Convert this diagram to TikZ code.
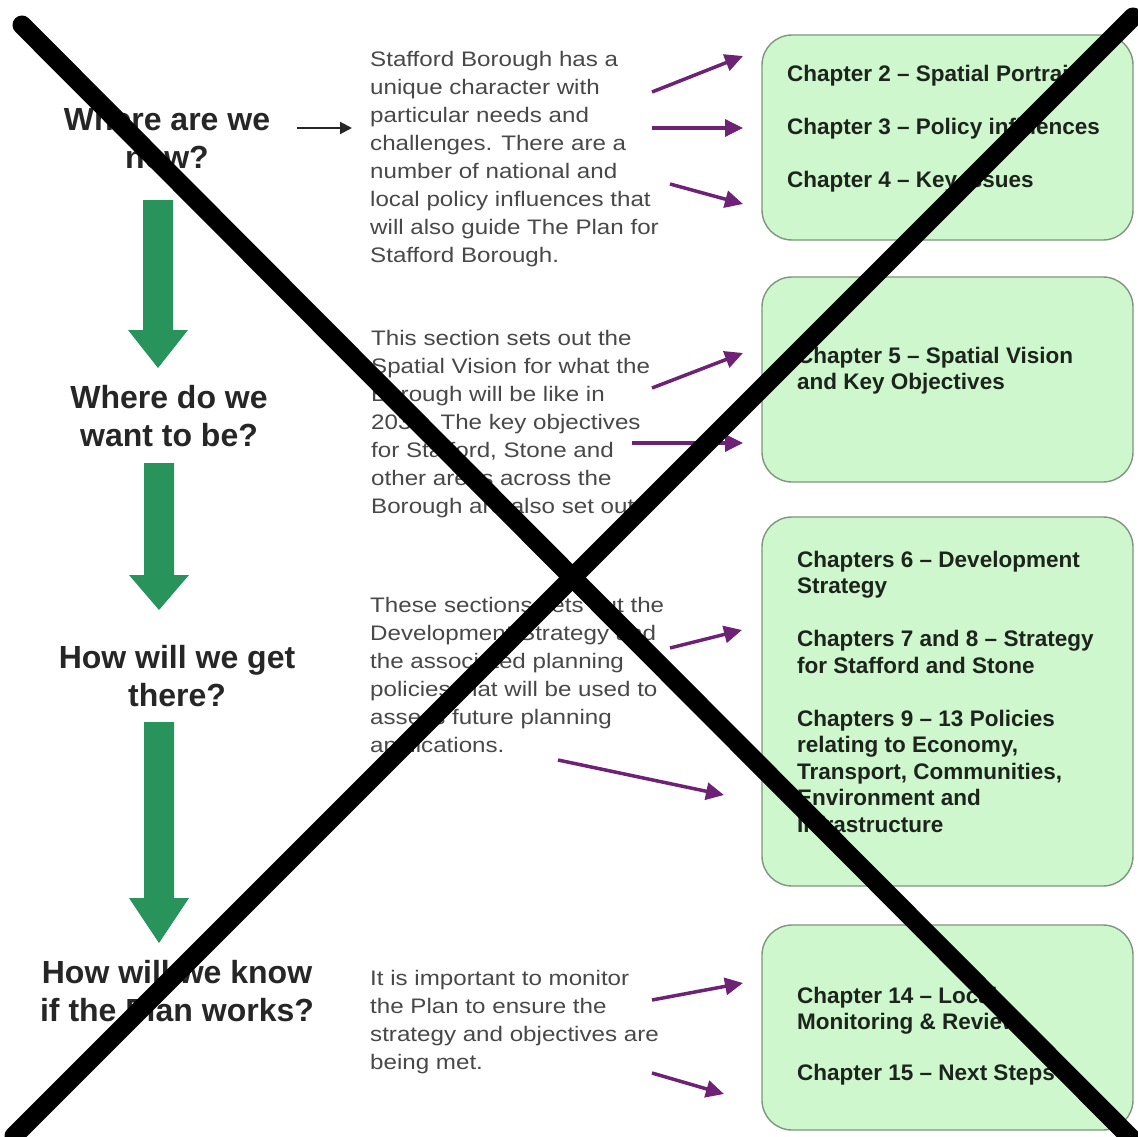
\documentclass[tikz,border=0pt]{standalone}
\usepackage{fontspec}
\setmainfont{Liberation Sans}
\newfontfamily\midfont{Liberation Sans}[FakeStretch=1.15]
\usetikzlibrary{arrows.meta}
\definecolor{qgreen}{RGB}{40,148,92}
\definecolor{boxfill}{RGB}{206,247,206}
\definecolor{boxline}{RGB}{125,150,125}
\definecolor{purp}{RGB}{110,34,118}
\definecolor{midgray}{RGB}{72,72,72}
\definecolor{qtext}{RGB}{38,38,38}
\definecolor{ctext}{RGB}{28,36,28}
\tikzset{
  chapbox/.style={draw=boxline, line width=1.4pt, fill=boxfill, rounded corners=30pt, inner sep=0pt},
  question/.style={anchor=base, inner sep=0pt, text=qtext},
  midtext/.style={anchor=base west, inner sep=0pt, text=midgray},
  chaptext/.style={anchor=base west, inner sep=0pt, text=ctext},
  purparrow/.style={draw=purp, line width=3.5pt, -{Triangle[length=18pt,width=17pt]}},
  blackarrow/.style={draw=qtext, line width=2pt, -{Triangle[length=12pt,width=12pt]}},
  greenarrow/.style={fill=qgreen},
  cross/.style={draw=black, line width=19pt, line cap=round}
}
\newcommand{\qtxt}[1]{\parbox[t]{320pt}{\centering\fontsize{32}{38}\selectfont\bfseries #1}}
\newcommand{\mtxt}[1]{\parbox[t]{360pt}{\raggedright\midfont\fontsize{21}{28}\selectfont #1}}
\newcommand{\ctxt}[1]{\parbox[t]{345pt}{\raggedright\fontsize{22.5}{26.5}\selectfont\bfseries #1}}
\begin{document}
\begin{tikzpicture}[x=1pt,y=-1pt]
\useasboundingbox[fill=white] (0,0) rectangle (1138,1137);

% questions
\node[question] (q1) at (167,131) {\qtxt{Where are we\\now?}};
\node[question] (q2) at (169,408) {\qtxt{Where do we\\want to be?}};
\node[question] (q3) at (177,668) {\qtxt{How will we get\\there?}};
\node[question] (q4) at (177,983) {\qtxt{How will we know\\if the Plan works?}};

% green down arrows
\fill[greenarrow] (143,200) -- (173,200) -- (173,330) -- (188,330) -- (158,368) -- (128,330) -- (143,330) -- cycle;
\fill[greenarrow] (144,463) -- (174,463) -- (174,575) -- (189,575) -- (159,610) -- (129,575) -- (144,575) -- cycle;
\fill[greenarrow] (144,722) -- (174,722) -- (174,898) -- (189,898) -- (159,943) -- (129,898) -- (144,898) -- cycle;

% middle texts
\node[midtext] (m1) at (370,67) {\mtxt{Stafford Borough has a\\unique character with\\particular needs and\\challenges. There are a\\number of national and\\local policy influences that\\will also guide The Plan for\\Stafford Borough.}};
\node[midtext] (m2) at (371,345) {\mtxt{This section sets out the\\Spatial Vision for what the\\Borough will be like in\\2031. The key objectives\\for Stafford, Stone and\\other areas across the\\Borough are also set out.}};
\node[midtext] (m3) at (370,612) {\mtxt{These sections sets out the\\Development Strategy and\\the associated planning\\policies that will be used to\\assess future planning\\applications.}};
\node[midtext] (m4) at (370,985) {\mtxt{It is important to monitor\\the Plan to ensure the\\strategy and objectives are\\being met.}};

% chapter boxes
\node[chapbox, minimum width=371pt, minimum height=205pt] (b1) at (947.5,137.5) {};
\node[chapbox, minimum width=371pt, minimum height=205pt] (b2) at (947.5,379.5) {};
\node[chapbox, minimum width=371pt, minimum height=369pt] (b3) at (947.5,701.5) {};
\node[chapbox, minimum width=371pt, minimum height=205pt] (b4) at (947.5,1027.5) {};

\node[chaptext] (c1) at (787,82) {\ctxt{Chapter 2 – Spatial Portrait\\[26.5pt]Chapter 3 – Policy influences\\[26.5pt]Chapter 4 – Key Issues}};
\node[chaptext] (c2) at (797,363) {\ctxt{Chapter 5 – Spatial Vision\\and Key Objectives}};
\node[chaptext] (c3) at (797,567) {\ctxt{Chapters 6 – Development\\Strategy\\[26.5pt]Chapters 7 and 8 – Strategy\\for Stafford and Stone\\[26.5pt]Chapters 9 – 13 Policies\\relating to Economy,\\Transport, Communities,\\Environment and\\Infrastructure}};
\node[chaptext] (c4) at (797,1003) {\ctxt{Chapter 14 – Local\\Monitoring \& Review\\[24pt]Chapter 15 – Next Steps}};

% arrow end points
\coordinate (k0s) at (297,128);  \coordinate (k0e) at (352,128);
\coordinate (a1s) at (652,92);   \coordinate (a1e) at (743,56);
\coordinate (a2s) at (652,128);  \coordinate (a2e) at (743,128);
\coordinate (a3s) at (670,184);  \coordinate (a3e) at (743,204);
\coordinate (a4s) at (652,388);  \coordinate (a4e) at (743,353);
\coordinate (a5s) at (632,443);  \coordinate (a5e) at (743,443);
\coordinate (a6s) at (670,648);  \coordinate (a6e) at (742,630);
\coordinate (a7s) at (558,760);  \coordinate (a7e) at (724,795);
\coordinate (a8s) at (652,1000); \coordinate (a8e) at (743,983);
\coordinate (a9s) at (652,1073); \coordinate (a9e) at (724,1094);

\draw[blackarrow] (k0s) -- (k0e);
\foreach \i in {1,...,9} { \draw[purparrow] (a\i s) -- (a\i e); }

% crossing-out lines
\coordinate (x1a) at (22,25);   \coordinate (x1b) at (1136,1143);
\coordinate (x2a) at (1133,17); \coordinate (x2b) at (14,1136);
\draw[cross] (x1a) -- (x1b);
\draw[cross] (x2a) -- (x2b);
\end{tikzpicture}
\end{document}
